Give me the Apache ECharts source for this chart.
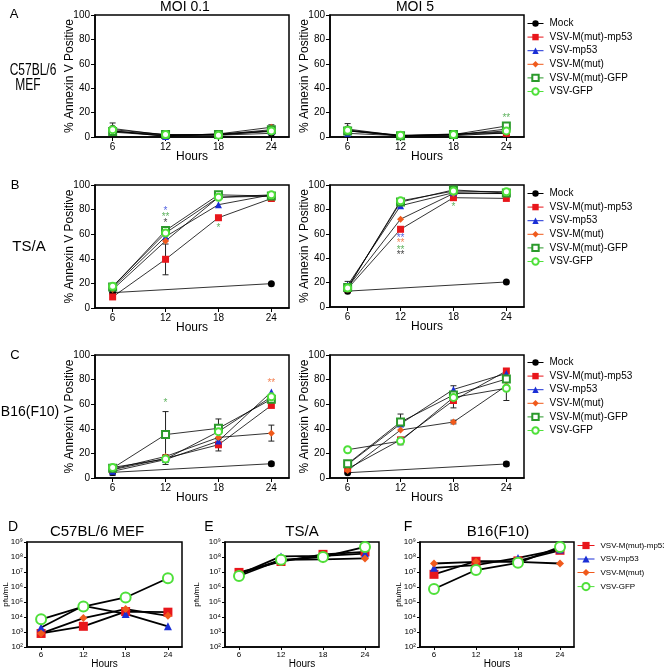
<!DOCTYPE html>
<html>
<head>
<meta charset="utf-8">
<script src="https://cdn.jsdelivr.net/npm/echarts@6/dist/echarts.min.js"></script>
<style>html,body{margin:0;padding:0;background:#fff}#c{width:664px;height:670px}</style>
</head>
<body>
<div id="c"></div>
<script>
// ---------- DATA ----------
const hours = [6, 12, 18, 24];
const annexSeries = ['Mock', 'VSV-M(mut)-mp53', 'VSV-mp53', 'VSV-M(mut)', 'VSV-M(mut)-GFP', 'VSV-GFP'];
const titerSeries = ['VSV-M(mut)-mp53', 'VSV-mp53', 'VSV-M(mut)', 'VSV-GFP'];

// A: C57BL/6 MEF, % Annexin V positive
const A01_mock = [7, 1.5, 1.5, 3];
const A01_mutmp53 = [4, 1, 2.5, 5];
const A01_mp53 = [5, 0.5, 2, 4.5];
const A01_mut = [5, 1, 2.5, 8];
const A01_mutgfp = [4.5, 2, 2, 6];
const A01_gfp = [6, 2, 1.5, 5];

const A5_mock = [6.5, 1, 1, 3.5];
const A5_mutmp53 = [5, 1, 2, 3];
const A5_mp53 = [3, 1, 1.5, 6.5];
const A5_mut = [5.5, 1, 2.5, 4];
const A5_mutgfp = [5, 1, 2, 9];
const A5_gfp = [5.5, 1.5, 2, 5];

// B: TS/A
const B01_mock = [12.5, null, null, 19.8];
const B01_mutmp53 = [9, 39.6, 73.4, 89];
const B01_mp53 = [16.5, 58, 84, 92];
const B01_mut = [15, 54.5, 90, 91];
const B01_mutgfp = [17, 63, 92, 91];
const B01_gfp = [17.6, 61, 90, 92];

const B5_mock = [13, null, null, 20.5];
const B5_mutmp53 = [15, 63.7, 89.6, 89];
const B5_mp53 = [17.8, 83, 93.7, 93];
const B5_mut = [16, 72, 93, 93];
const B5_mutgfp = [16, 86, 96, 93.4];
const B5_gfp = [15.5, 87, 95, 94.5];

// C: B16(F10)
const C01_mock = [4.6, null, null, 11.6];
const C01_mutmp53 = [6.7, 16, 27, 59];
const C01_mp53 = [5.4, 15, 30, 70];
const C01_mut = [7.3, 17.5, 33, 36.4];
const C01_mutgfp = [8, 35.3, 40.4, 64];
const C01_gfp = [8.6, 15.4, 37.7, 66];

const C5_mock = [4.3, null, null, 11.4];
const C5_mutmp53 = [7.5, 31, 63, 87];
const C5_mp53 = [11, 44, 72, 85];
const C5_mut = [6, 39, 45.5, 75];
const C5_mutgfp = [11.5, 45.5, 67.5, 80.5];
const C5_gfp = [23, 30, 65.5, 73];

// error bars: [hour, low, high]
const errA01 = [[6, 3, 11.5], [24, 6, 10]];
const errA5 = [[6, 3, 11]];
const errB01 = [[12, 27, 52]];
const errB5 = [[6, 15, 21]];
const errC01 = [[12, 17, 54], [18, 33, 48], [24, 30, 43], [18, 22, 31], [12, 11, 19], [24, 10, 13], [6, 2, 7]];
const errC5 = [[24, 63, 79], [18, 69, 75], [18, 57, 68], [12, 42, 52], [12, 27, 33], [24, 10, 13], [18, 44, 47], [6, 8, 14]];

// significance stars: [hour, y, text, series index]
const starsA5 = [[24, 15, '**', 4]];
const starsB01 = [[12, 79, '*', 2], [12, 74, '**', 4], [12, 69, '*', 0], [18, 65, '*', 4]];
const starsB5 = [[12, 56.6, '**', 2], [12, 52, '**', 3], [12, 46.7, '**', 4], [12, 42.3, '**', 0], [18, 82, '*', 4]];
const starsC01 = [[12, 60.6, '*', 4], [24, 77, '**', 3]];

// D/E/F: pfu/mL
const D_mutmp53 = [8e2, 2.4e3, 2.3e4, 2.1e4];
const D_mp53 = [2e3, 5.6e4, 1.6e4, 2.4e3];
const D_mut = [8e2, 8.5e3, 3.4e4, 1.2e4];
const D_gfp = [7e3, 5e4, 2e5, 3.8e6];

const E_mutmp53 = [9.4e6, 5e7, 1.5e8, 2.2e8];
const E_mp53 = [7e6, 1.1e8, 1.2e8, 1.7e8];
const E_mut = [7.5e6, 6.5e7, 7e7, 8e7];
const E_gfp = [5.4e6, 6.5e7, 1e8, 4.7e8];

const F_mutmp53 = [7e6, 5.2e7, 5.5e7, 2.8e8];
const F_mp53 = [1.9e7, 2.9e7, 8.7e7, 3.2e8];
const F_mut = [3.7e7, 4.8e7, 4.8e7, 3.7e7];
const F_gfp = [7.4e5, 1.35e7, 4.1e7, 4.7e8];

// ---------- STYLE ----------
const FONT = 'Liberation Sans, Arial, Helvetica, sans-serif';
const styles = {
  'Mock': {color: '#000000', symbol: 'circle', size: 7},
  'VSV-M(mut)-mp53': {color: '#e8161b', symbol: 'rect', size: 7},
  'VSV-mp53': {color: '#1a2fd6', symbol: 'triangle', size: 7},
  'VSV-M(mut)': {color: '#f05a1c', symbol: 'diamond', size: 7},
  'VSV-M(mut)-GFP': {color: '#2b9a2b', symbol: 'emptyRect', size: 7},
  'VSV-GFP': {color: '#4fe03a', symbol: 'emptyCircle', size: 7}
};
const titerStyles = {
  'VSV-M(mut)-mp53': {symbol: 'rect', size: 9},
  'VSV-mp53': {symbol: 'triangle', size: 8},
  'VSV-M(mut)': {symbol: 'diamond', size: 8},
  'VSV-GFP': {symbol: 'emptyCircle', size: 10}
};

const annexPanels = [
  {grid: {left: 95, top: 15, width: 194, height: 122}, vals: [A01_mock, A01_mutmp53, A01_mp53, A01_mut, A01_mutgfp, A01_gfp], err: errA01, stars: []},
  {grid: {left: 330, top: 15, width: 194, height: 122}, vals: [A5_mock, A5_mutmp53, A5_mp53, A5_mut, A5_mutgfp, A5_gfp], err: errA5, stars: starsA5},
  {grid: {left: 95, top: 185, width: 194, height: 123}, vals: [B01_mock, B01_mutmp53, B01_mp53, B01_mut, B01_mutgfp, B01_gfp], err: errB01, stars: starsB01},
  {grid: {left: 330, top: 185, width: 194, height: 122}, vals: [B5_mock, B5_mutmp53, B5_mp53, B5_mut, B5_mutgfp, B5_gfp], err: errB5, stars: starsB5},
  {grid: {left: 95, top: 355, width: 194, height: 123}, vals: [C01_mock, C01_mutmp53, C01_mp53, C01_mut, C01_mutgfp, C01_gfp], err: errC01, stars: starsC01},
  {grid: {left: 330, top: 355, width: 194, height: 123}, vals: [C5_mock, C5_mutmp53, C5_mp53, C5_mut, C5_mutgfp, C5_gfp], err: errC5, stars: []}
];
const titerPanels = [
  {grid: {left: 27, top: 542, width: 155, height: 106}, vals: [D_mutmp53, D_mp53, D_mut, D_gfp], nameGap: 17},
  {grid: {left: 225, top: 542, width: 154, height: 106}, vals: [E_mutmp53, E_mp53, E_mut, E_gfp], nameGap: 24},
  {grid: {left: 420, top: 542, width: 154, height: 106}, vals: [F_mutmp53, F_mp53, F_mut, F_gfp], nameGap: 17}
];

const sup = ['\u2070', '\u00b9', '\u00b2', '\u00b3', '\u2074', '\u2075', '\u2076', '\u2077', '\u2078', '\u2079'];

const grids = [], xAxes = [], yAxes = [], series = [];

function frameGrid(g) {
  return Object.assign({show: true, borderColor: '#000', borderWidth: 1.5, backgroundColor: 'transparent', containLabel: false}, g);
}
function xAxisCfg(gi, small) {
  return {
    type: 'value', gridIndex: gi, min: 4, max: 26,
    name: 'Hours', nameLocation: 'middle', nameGap: small ? 12 : 14, nameMoveOverlap: false,
    nameTextStyle: {fontFamily: FONT, fontSize: small ? 10 : 12, color: '#000', verticalAlign: 'top'},
    axisLine: {show: true, lineStyle: {color: '#000', width: 1.5}},
    axisTick: {show: true, inside: false, length: small ? 3 : 4, lineStyle: {color: '#000', width: 1}, customValues: hours},
    axisLabel: {show: true, fontFamily: FONT, fontSize: small ? 8 : 10, color: '#000', margin: small ? 4 : 5, customValues: hours},
    splitLine: {show: false}
  };
}
function errRender(params, api) {
  const x = api.value(0), lo = api.value(1), hi = api.value(2);
  const p1 = api.coord([x, lo]), p2 = api.coord([x, hi]);
  const w = 3;
  const st = {stroke: '#222', lineWidth: 1};
  return {type: 'group', children: [
    {type: 'line', shape: {x1: p1[0], y1: p1[1], x2: p2[0], y2: p2[1]}, style: st},
    {type: 'line', shape: {x1: p1[0] - w, y1: p1[1], x2: p1[0] + w, y2: p1[1]}, style: st},
    {type: 'line', shape: {x1: p2[0] - w, y1: p2[1], x2: p2[0] + w, y2: p2[1]}, style: st}
  ]};
}

annexPanels.forEach((p, i) => {
  grids.push(frameGrid(p.grid));
  xAxes.push(xAxisCfg(i, false));
  yAxes.push({
    type: 'value', gridIndex: i, min: 0, max: 100, interval: 20,
    name: '% Annexin V Positive', nameLocation: 'middle', nameGap: 19, nameMoveOverlap: false,
    nameTextStyle: {fontFamily: FONT, fontSize: 12, color: '#000'},
    axisLine: {show: true, lineStyle: {color: '#000', width: 1.5}},
    axisTick: {show: true, inside: false, length: 4, lineStyle: {color: '#000', width: 1}},
    axisLabel: {fontFamily: FONT, fontSize: 10, color: '#000', margin: 5},
    splitLine: {show: false}
  });
  series.push({
    type: 'custom', xAxisIndex: i, yAxisIndex: i, renderItem: errRender, z: 1, silent: true,
    data: p.err
  });
  p.vals.forEach((v, k) => {
    const name = annexSeries[k];
    const s = styles[name];
    series.push({
      type: 'line', name: name, xAxisIndex: i, yAxisIndex: i,
      data: hours.map((h, j) => [h, v[j]]), connectNulls: true,
      symbol: s.symbol, symbolSize: s.size, showAllSymbol: true,
      lineStyle: {color: '#000', width: 0.8},
      itemStyle: {color: s.color, borderColor: s.color, borderWidth: s.symbol.indexOf('empty') === 0 ? 1.6 : 0},
      emphasis: {disabled: true}, z: 3, animation: false
    });
  });
  if (p.stars.length) {
    series.push({
      type: 'scatter', xAxisIndex: i, yAxisIndex: i, symbolSize: 0.1, z: 5, silent: true,
      data: p.stars.map(s => ({
        value: [s[0], s[1]],
        label: {show: true, formatter: s[2], color: styles[annexSeries[s[3]]].color, fontSize: 10, fontFamily: FONT, position: 'inside', opacity: 0.75}
      }))
    });
  }
});

titerPanels.forEach((p, t) => {
  const i = annexPanels.length + t;
  grids.push(frameGrid(p.grid));
  xAxes.push(xAxisCfg(i, true));
  yAxes.push({
    type: 'log', logBase: 10, gridIndex: i, min: 1e2, max: 1e9,
    name: 'pfu/mL', nameLocation: 'middle', nameGap: p.nameGap, nameMoveOverlap: false,
    nameTextStyle: {fontFamily: FONT, fontSize: 8, color: '#000'},
    axisLine: {show: true, lineStyle: {color: '#000', width: 1.5}},
    axisTick: {show: true, inside: false, length: 3, lineStyle: {color: '#000', width: 1}},
    axisLabel: {fontFamily: FONT, fontSize: 8, color: '#000', margin: 4,
      formatter: v => '10' + sup[Math.round(Math.log10(v))]},
    minorTick: {show: false},
    splitLine: {show: false}
  });
  p.vals.forEach((v, k) => {
    const name = titerSeries[k];
    const s = titerStyles[name];
    const c = styles[name].color;
    series.push({
      type: 'line', name: name, xAxisIndex: i, yAxisIndex: i,
      data: hours.map((h, j) => [h, v[j]]),
      symbol: s.symbol, symbolSize: s.size, showAllSymbol: true,
      lineStyle: {color: '#000', width: 1.8},
      itemStyle: {color: c, borderColor: c, borderWidth: s.symbol.indexOf('empty') === 0 ? 2 : 0},
      emphasis: {disabled: true}, z: 3, animation: false
    });
  });
});

function legendCfg(names, top, left, fs, ih, gap, iw) {
  return {
    orient: 'vertical', left: left, top: top, itemWidth: iw, itemHeight: ih, itemGap: gap,
    selectedMode: false, padding: 0,
    textStyle: {fontFamily: FONT, fontSize: fs, color: '#000', padding: [0, 0, 0, 1]},
    data: names.map(n => ({name: n, itemStyle: {color: styles[n].color}, lineStyle: {color: styles[n].color, width: 1}}))
  };
}

const graphicText = (txt, x, y, fs, sy) => ({
  type: 'text', x: x, y: y, scaleY: sy || 1,
  style: {text: txt, fontFamily: FONT, fontSize: fs, fill: '#000', align: 'center', verticalAlign: 'middle'}
});

const option = {
  backgroundColor: '#fff',
  animation: false,
  grid: grids, xAxis: xAxes, yAxis: yAxes, series: series,
  legend: [
    legendCfg(annexSeries, 18.5, 527, 10, 8, 3.6, 16),
    legendCfg(annexSeries, 188.5, 527, 10, 8, 3.6, 16),
    legendCfg(annexSeries, 357.5, 527, 10, 8, 3.6, 16),
    legendCfg(titerSeries, 541.5, 577, 8, 9, 5.5, 17)
  ],
  graphic: [
    graphicText('A', 14, 14, 13),
    graphicText('B', 15, 185, 13),
    graphicText('C', 15, 355, 13),
    graphicText('D', 13, 527, 14),
    graphicText('E', 209, 527, 14),
    graphicText('F', 408, 527, 14),
    graphicText('MOI 0.1', 185, 7, 14),
    graphicText('MOI 5', 415, 7, 14),
    graphicText('C57BL/6', 33, 71, 12, 1.3),
    graphicText('MEF', 28, 86, 12, 1.3),
    graphicText('TS/A', 29, 247, 15),
    graphicText('B16(F10)', 30, 412, 14),
    graphicText('C57BL/6 MEF', 97, 532, 15),
    graphicText('TS/A', 302, 532, 15),
    graphicText('B16(F10)', 498, 532, 15)
  ]
};

const chart = echarts.init(document.getElementById('c'), null, {renderer: 'canvas'});
chart.setOption(option);
</script>
</body>
</html>
